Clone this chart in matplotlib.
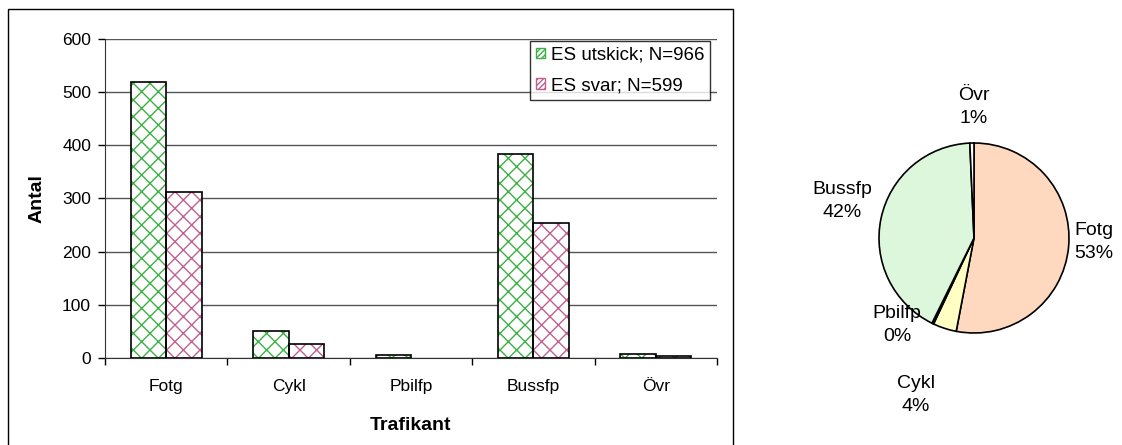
import matplotlib.pyplot as plt
from matplotlib.patches import Rectangle
import numpy as np

plt.rcParams['font.family'] = ['Liberation Sans', 'DejaVu Sans']
plt.rcParams['hatch.linewidth'] = 1.0

# data
kategorier = ["Fotg", "Cykl", "Pbilfp", "Bussfp", "Övr"]
utskick = [519, 51, 5, 383, 8]
svar = [312, 26, 0, 253, 3]
serie_namn = ["ES utskick; N=966", "ES svar; N=599"]
pie_andel = [53, 4, 0.3, 42, 0.7]
pie_text = ["53%", "4%", "0%", "42%", "1%"]

fig = plt.figure(figsize=(11.22, 4.45), dpi=100)

# ram runt stapeldiagrammet
fig.patches.append(Rectangle((8 / 1122, -0.01), (733 - 8) / 1122, 1 - 9 / 445 + 0.01,
                             transform=fig.transFigure, fill=False,
                             edgecolor="black", linewidth=1.0))

ax = fig.add_axes([105 / 1122, 1 - 358 / 445, (717 - 105) / 1122, (358 - 39) / 445])
x = np.arange(len(kategorier))
w = 0.29
for vals, off, col in [(utskick, -w / 2, "#3cb043"), (svar, w / 2, "#c06090")]:
    ax.bar(x + off, vals, w, color="white", edgecolor=col, hatch="xx", linewidth=0, zorder=2)
    lw = [1.2 if v > 0 else 0 for v in vals]
    ax.bar(x + off, vals, w, fill=False, edgecolor="black", linewidth=lw, zorder=3)

ax.set_xlim(-0.5, len(kategorier) - 0.5)
ax.set_ylim(0, 600)
ax.set_yticks(range(0, 601, 100))
ax.yaxis.grid(True, color="#555555", linewidth=1.0, zorder=0)
ax.set_axisbelow(True)
ax.set_xticks(x)
ax.set_xticklabels(kategorier, fontsize=12.5)
ax.set_xticks(np.arange(-0.5, len(kategorier), 1), minor=True)
ax.tick_params(axis="x", which="major", length=0, pad=15)
ax.tick_params(axis="x", which="minor", length=5, width=1, direction="out")
ax.tick_params(axis="y", length=5, width=1, labelsize=12.5, pad=5)
for s in ["top", "right"]:
    ax.spines[s].set_visible(False)
ax.spines["left"].set_color("#333333")
ax.spines["bottom"].set_color("#333333")
ax.set_xlabel("Trafikant", fontsize=14, fontweight="bold", labelpad=17)
ax.set_ylabel("Antal", fontsize=14, fontweight="bold", labelpad=12)

# legend
h1 = Rectangle((0, 0), 1, 1, facecolor="white", edgecolor="#3cb043", hatch="//////")
h2 = Rectangle((0, 0), 1, 1, facecolor="white", edgecolor="#c06090", hatch="//////")
leg = ax.legend([h1, h2], serie_namn, loc="upper right", bbox_to_anchor=(0.9886, 0.9937),
                fontsize=13.5, frameon=True, fancybox=False, edgecolor="black",
                handlelength=0.5, handleheight=0.5, handletextpad=0.3,
                borderpad=0.3, labelspacing=0.72, borderaxespad=0)
leg.get_frame().set_linewidth(1.0)

# cirkeldiagram
cx, cy, r = 974, 238, 95
pax = fig.add_axes([(cx - 2 * r) / 1122, (445 - cy - 2 * r) / 445, 4 * r / 1122, 4 * r / 445])
pie_farg = ["#ffd9bf", "#ffffc4", "#ffffff", "#ddf7dd", "#ffffff"]
wedges, _ = pax.pie(pie_andel, colors=pie_farg, startangle=90, counterclock=False,
                    radius=0.5, center=(1, 1),
                    wedgeprops=dict(edgecolor="black", linewidth=1.2))
pax.set_xlim(0, 2)
pax.set_ylim(0, 2)
pax.set_aspect("equal")
pax.axis("off")

etikett_pos = [(1.26, -0.04), (-0.61, -1.65), (-0.81, -0.92), (-1.39, 0.39), (0.0, 1.38)]
for namn, pct, (dx, dy) in zip(kategorier, pie_text, etikett_pos):
    pax.text(1 + dx * 0.5, 1 + dy * 0.5, f"{namn}\n{pct}", ha="center", va="center",
             fontsize=14, linespacing=1.45)

fig.savefig("out.png", dpi=100)
